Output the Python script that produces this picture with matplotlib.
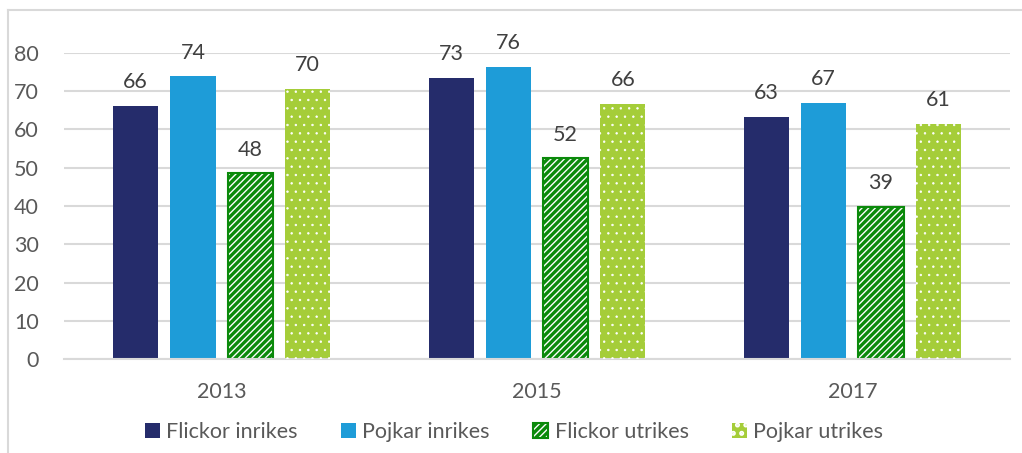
import matplotlib.pyplot as plt
from matplotlib.legend_handler import HandlerTuple
import numpy as np

plt.rcParams['font.family'] = ['Lato', 'DejaVu Sans']
plt.rcParams['hatch.linewidth'] = 2.4

years = ['2013', '2015', '2017']
series = ['Flickor inrikes', 'Pojkar inrikes', 'Flickor utrikes', 'Pojkar utrikes']
flickor_inrikes = [66.1, 73.4, 63.2]
pojkar_inrikes = [73.8, 76.2, 67.0]
flickor_utrikes = [48.5, 52.4, 39.7]
pojkar_utrikes = [70.5, 66.6, 61.4]
labels = [['66', '73', '63'], ['74', '76', '67'], ['48', '52', '39'], ['70', '66', '61']]

navy = '#252c6b'
blue = '#1e9cd8'
green = '#0b8a0b'
lime = '#a5cd39'

fig = plt.figure(figsize=(10.22, 4.53), dpi=100)
ax = fig.add_axes([64 / 1022, 1 - 359.3 / 453, (1010 - 64) / 1022, (359.3 - 52.7) / 453])

x = np.arange(len(years))
w = 0.143
offs = [-0.2725, -0.0908, 0.0908, 0.2725]
values = [flickor_inrikes, pojkar_inrikes, flickor_utrikes, pojkar_utrikes]

b1 = ax.bar(x + offs[0], flickor_inrikes, w, color=navy, zorder=2)
b2 = ax.bar(x + offs[1], pojkar_inrikes, w, color=blue, zorder=2)
b3 = ax.bar(x + offs[2], flickor_utrikes, w, facecolor='white', edgecolor=green,
            hatch='/////', linewidth=1.5, zorder=2)
b4 = ax.bar(x + offs[3], pojkar_utrikes, w, color=lime, zorder=2)
with plt.rc_context({'hatch.linewidth': 0.5}):
    b4h = ax.bar(x + offs[3], pojkar_utrikes, w, facecolor='none', edgecolor='white',
                 hatch='..', linewidth=0, zorder=3)

for vals, off, labs in zip(values, offs, labels):
    for xi, v, lab in zip(x, vals, labs):
        ax.text(xi + off, v + 3.6, lab, ha='center', va='bottom', fontsize=15.5, color='#404040')

ax.set_xlim(-0.5, 2.5)
ax.set_ylim(0, 80)
ax.set_yticks(range(0, 81, 10))
ax.yaxis.grid(True, color='#d9d9d9', linewidth=1.5, zorder=0)
ax.set_axisbelow(True)
ax.set_xticks(x)
ax.set_xticklabels(years)
ax.tick_params(axis='both', length=0, labelsize=15.5, labelcolor='#595959')
ax.tick_params(axis='y', pad=18)
ax.tick_params(axis='x', pad=16)
for s in ['top', 'right', 'left']:
    ax.spines[s].set_visible(False)
ax.spines['bottom'].set_color('#d9d9d9')
ax.spines['bottom'].set_linewidth(1.5)

leg = fig.legend([b1[0], b2[0], b3[0], (b4[0], b4h[0])], series,
                 handler_map={tuple: HandlerTuple(ndivide=1, pad=0)},
                 loc='center', bbox_to_anchor=(514 / 1022, 1 - 432 / 453), ncol=4,
                 frameon=False, fontsize=15.5, labelcolor='#595959',
                 handlelength=0.7, handleheight=0.7, handletextpad=0.3, columnspacing=2.0)

# figure frame
fig.add_artist(plt.Line2D([8 / 1022, 8 / 1022], [0, 1 - 10 / 453], transform=fig.transFigure,
                          color='#d9d9d9', linewidth=1.5))
fig.add_artist(plt.Line2D([8 / 1022, 1], [1 - 10 / 453, 1 - 10 / 453], transform=fig.transFigure,
                          color='#d9d9d9', linewidth=1.5))

fig.savefig('out.png', dpi=100)
